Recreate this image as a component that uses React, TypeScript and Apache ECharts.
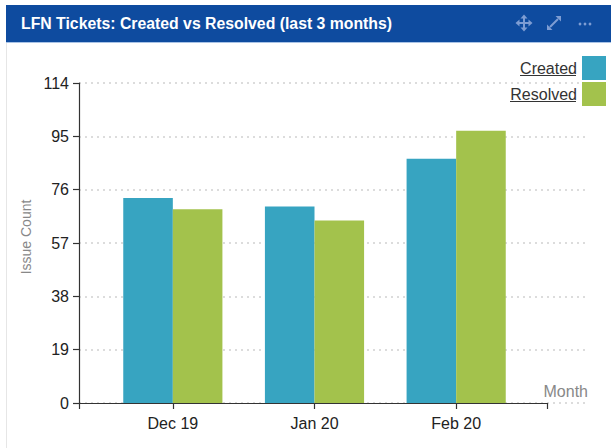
import React, { useEffect, useRef } from "react";
import * as echarts from "echarts";

const months = ["Dec 19", "Jan 20", "Feb 20"];
const createdValues = [73, 70, 87];
const resolvedValues = [69, 65, 97];
const seriesNames = ["Created", "Resolved"];
const yMin = 0;
const yMax = 114;
const yStep = 19;
const titleText = "LFN Tickets: Created vs Resolved (last 3 months)";
const yAxisTitle = "Issue Count";
const xAxisTitle = "Month";

const FONT = "'Liberation Sans', Arial, Helvetica, sans-serif";
const BLUE = "#37a4c1";
const GREEN = "#a3c24c";
const ICON = "#7e9dd3";

export default function App() {
  const ref = useRef<HTMLDivElement>(null);
  useEffect(() => {
    document.body.style.margin = "0";
    const chart = echarts.init(ref.current!, null, { renderer: "svg" });
    const top = 83;
    const bottom = 45;
    const axisColor = "#333";
    chart.setOption({
      animation: false,
      textStyle: { fontFamily: FONT },
      grid: [
        { left: 79, right: 23, top, bottom },
        { left: 79, right: 64, top, bottom },
        { left: 102, right: 84, top, bottom },
      ],
      xAxis: [
        { gridIndex: 0, type: "value", show: false, min: 0, max: 1 },
        {
          gridIndex: 1,
          type: "value",
          min: 0,
          max: 1,
          interval: 1,
          axisLine: { show: true, lineStyle: { color: axisColor, width: 1.2 } },
          axisTick: { show: true, length: 6, lineStyle: { color: axisColor, width: 1.2 } },
          axisLabel: { show: false },
          splitLine: { show: false },
          name: xAxisTitle,
          nameLocation: "end",
          nameGap: 41,
          nameTextStyle: {
            color: "#888",
            fontSize: 16,
            align: "right",
            verticalAlign: "bottom",
            padding: [0, 0, 4, 0],
          },
        },
        {
          gridIndex: 2,
          type: "category",
          data: months,
          axisLine: { show: false },
          axisTick: { show: true, alignWithLabel: true, length: 6, lineStyle: { color: axisColor, width: 1.2 } },
          axisLabel: { color: "#222", fontSize: 16, margin: 12 },
        },
      ],
      yAxis: [
        {
          gridIndex: 0,
          type: "value",
          min: yMin,
          max: yMax,
          interval: yStep,
          axisLine: { show: true, lineStyle: { color: axisColor, width: 1.2 } },
          axisTick: { show: true, length: 6, lineStyle: { color: axisColor, width: 1.2 } },
          axisLabel: { color: "#222", fontSize: 16, margin: 10 },
          splitLine: { show: true, lineStyle: { color: "#dcdcdc", type: [2, 4], width: 2 } },
          name: yAxisTitle,
          nameLocation: "middle",
          nameGap: 43,
          nameTextStyle: { color: "#888", fontSize: 14, padding: [0, 0, 0, 12] },
        },
        { gridIndex: 1, type: "value", show: false, min: yMin, max: yMax },
        { gridIndex: 2, type: "value", show: false, min: yMin, max: yMax },
      ],
      legend: {
        orient: "vertical",
        right: 0,
        top: 51,
        align: "right",
        icon: "rect",
        itemWidth: 24,
        itemHeight: 24,
        itemGap: 2,
        textStyle: { color: "#333", fontSize: 16 },
        data: seriesNames,
      },
      series: [
        {
          name: seriesNames[0],
          type: "bar",
          xAxisIndex: 2,
          yAxisIndex: 2,
          data: createdValues,
          barGap: "0%",
          barCategoryGap: "30%",
          itemStyle: { color: BLUE },
        },
        {
          name: seriesNames[1],
          type: "bar",
          xAxisIndex: 2,
          yAxisIndex: 2,
          data: resolvedValues,
          barGap: "0%",
          barCategoryGap: "30%",
          itemStyle: { color: GREEN },
        },
      ],
      graphic: [
        { type: "rect", shape: { x: 6, y: 5, width: 605, height: 37 }, style: { fill: "#0e4b9f" }, z: 10 },
        { type: "rect", shape: { x: 6, y: 42, width: 605, height: 1 }, style: { fill: "#a9c3e6" }, z: 10 },
        { type: "rect", shape: { x: 6, y: 43, width: 1, height: 405 }, style: { fill: "#e6e6e6" }, z: 10 },
        {
          type: "text",
          x: 21,
          y: 23,
          z: 11,
          style: {
            text: titleText,
            fill: "#fff",
            font: `bold 15.8px ${FONT}`,
            verticalAlign: "middle",
          },
        },
        { type: "rect", shape: { x: 523, y: 17, width: 2, height: 12 }, style: { fill: ICON }, z: 11 },
        { type: "rect", shape: { x: 518, y: 22, width: 12, height: 2 }, style: { fill: ICON }, z: 11 },
        { type: "polygon", shape: { points: [[524, 14.5], [520.5, 18.5], [527.5, 18.5]] }, style: { fill: ICON }, z: 11 },
        { type: "polygon", shape: { points: [[524, 31.5], [520.5, 27.5], [527.5, 27.5]] }, style: { fill: ICON }, z: 11 },
        { type: "polygon", shape: { points: [[515.5, 23], [519.5, 19.5], [519.5, 26.5]] }, style: { fill: ICON }, z: 11 },
        { type: "polygon", shape: { points: [[532.5, 23], [528.5, 19.5], [528.5, 26.5]] }, style: { fill: ICON }, z: 11 },
        { type: "line", shape: { x1: 550, y1: 27, x2: 558, y2: 19 }, style: { stroke: ICON, lineWidth: 2 }, z: 11 },
        { type: "polygon", shape: { points: [[561, 16], [555.5, 16], [561, 21.5]] }, style: { fill: ICON }, z: 11 },
        { type: "polygon", shape: { points: [[547, 30], [552.5, 30], [547, 24.5]] }, style: { fill: ICON }, z: 11 },
        { type: "circle", shape: { cx: 580, cy: 24, r: 1.4 }, style: { fill: ICON }, z: 11 },
        { type: "circle", shape: { cx: 585, cy: 24, r: 1.4 }, style: { fill: ICON }, z: 11 },
        { type: "circle", shape: { cx: 590, cy: 24, r: 1.4 }, style: { fill: ICON }, z: 11 },
        { type: "line", shape: { x1: 520, y1: 75.5, x2: 576, y2: 75.5 }, style: { stroke: "#333", lineWidth: 1 }, z: 11 },
        { type: "line", shape: { x1: 510, y1: 101.5, x2: 576, y2: 101.5 }, style: { stroke: "#333", lineWidth: 1 }, z: 11 },
      ],
    });
    return () => chart.dispose();
  }, []);
  return (
    <div
      ref={ref}
      style={{ position: "absolute", left: 0, top: 0, width: 611, height: 448, background: "#fff" }}
    />
  );
}
